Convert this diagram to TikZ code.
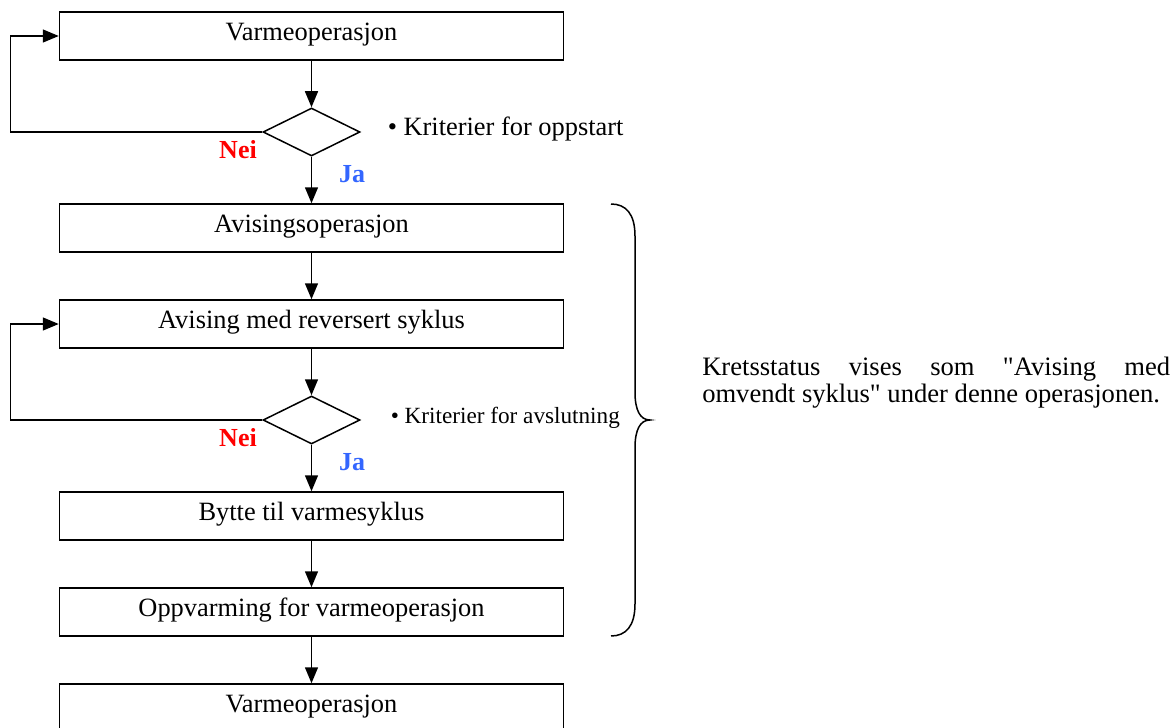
\documentclass[tikz,border=0pt]{standalone}
\usepackage{fontspec}
\setmainfont{Liberation Serif}
\usetikzlibrary{shapes.geometric, arrows.meta, positioning}
\definecolor{jablue}{RGB}{51,102,255}
\begin{document}
\begin{tikzpicture}[x=0.5pt, y=-0.5pt, line width=0.75pt, node distance=48pt,
        >={Triangle[length=8pt, width=6.5pt]},
        main/.style = {draw, rectangle, minimum width=252pt, minimum height=24pt, inner sep=0pt,
            text height=9pt, text depth=5pt, font=\fontsize{13.2}{15}\selectfont},
        test/.style = {draw, diamond, minimum width=48.5pt, minimum height=24pt, inner sep=0pt},
        nei/.style = {anchor=base, inner sep=0pt, text=red, font=\fontsize{13}{15}\selectfont\bfseries},
        ja/.style = {anchor=base, inner sep=0pt, text=jablue, font=\fontsize{13}{15}\selectfont\bfseries},
        crit/.style = {anchor=base west, inner sep=0pt}]
        \useasboundingbox (0,0) rectangle (1175,728);
        \node[main] (0) at (311.5,36) {Varmeoperasjon};
        \node[test] (1) [below of=0] {};
        \node[main] (2) [below of=1] {Avisingsoperasjon};
        \node[main] (3) [below of=2] {Avising med reversert syklus};
        \node[test] (4) [below of=3] {};
        \node[main] (5) [below of=4] {Bytte til varmesyklus};
        \node[main] (6) [below of=5] {Oppvarming for varmeoperasjon};
        \node[main] (7) [below of=6] {Varmeoperasjon};
        \draw[->] (0) -- (1);
        \draw[->] (1) -- (2);
        \draw[->] (2) -- (3);
        \draw[->] (3) -- (4);
        \draw[->] (4) -- (5);
        \draw[->] (5) -- (6);
        \draw[->] (6) -- (7);
        \draw[->] (1.west) -- ++(-252,0) |- (0.west);
        \draw[->] (4.west) -- ++(-252,0) |- (3.west);
        \node[nei] (n1) at (238,158) {Nei};
        \node[ja] (j1) at (352,182.5) {Ja};
        \node[nei] (n4) at (238,446.5) {Nei};
        \node[ja] (j4) at (352,470.5) {Ja};
        \node[crit, font=\fontsize{13.2}{15}\selectfont] (c1) at (387,135) {• Kriterier for oppstart};
        \node[crit, font=\fontsize{11.6}{14}\selectfont] (c4) at (390,423.5) {• Kriterier for avslutning};
        % brace
        \draw (611,204) .. controls (626,204) and (635,214) .. (635,236) -- (635,392)
            .. controls (635,410) and (640,420) .. (650,420)
            .. controls (640,420) and (635,430) .. (635,448) -- (635,604)
            .. controls (635,626) and (626,636) .. (611,636);
        \node[anchor=base west, inner sep=0pt, text width=234pt, align=justify,
            font=\fontsize{13.3}{13.5}\selectfont] (8) at (701.5,375)
            {Kretsstatus vises som \textquotedbl Avising med\linebreak
            \mbox{omvendt syklus\textquotedbl{} under denne operasjonen.}};
\end{tikzpicture}
\end{document}
